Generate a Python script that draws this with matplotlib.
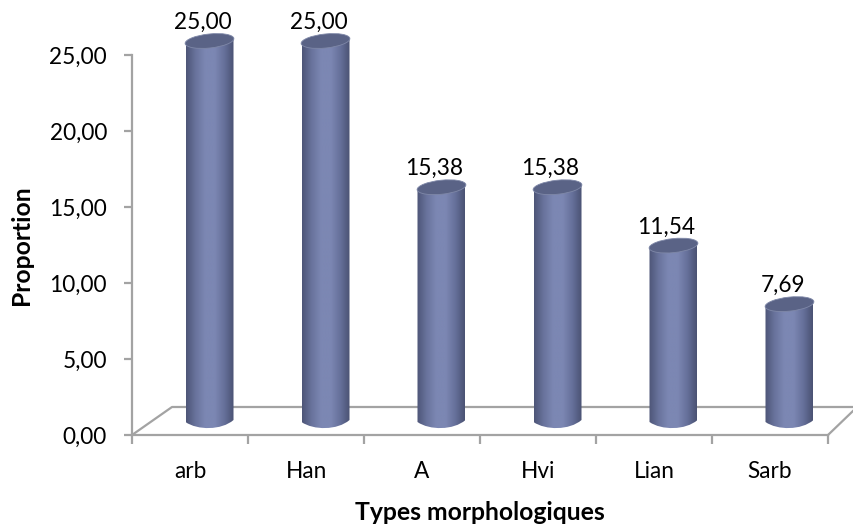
"""Cylinder bar chart of morphological types"""

import numpy as np
from matplotlib import pyplot as plt
from matplotlib.patches import Ellipse, PathPatch
from matplotlib.path import Path
from matplotlib.colors import LinearSegmentedColormap

categories = ['arb', 'Han', 'A', 'Hvi', 'Lian', 'Sarb']
values = [25.00, 25.00, 15.38, 15.38, 11.54, 7.69]
y_ticks = [0, 5, 10, 15, 20, 25]

W, H = 854, 529
GRAY = '#a3a3a3'
plt.rcParams['font.family'] = ['Lato', 'DejaVu Sans']

fig = plt.figure(figsize=(W / 100, H / 100), dpi=100)
ax = fig.add_axes([132 / W, 1 - 435 / H, 696 / W, 380 / H])
ax.set_xlim(-0.5, 5.5)
ax.set_ylim(0, 25)

# pixel sizes of the fake 3d, as data units
px_x = 6 / 696
px_y = 25 / 380
dx, dy = 19.5 * px_x, 13 * px_y
half_w = 24 * px_x
ell_h = 14 * px_y

for s in ['top', 'right']:
    ax.spines[s].set_visible(False)
for s in ['left', 'bottom']:
    ax.spines[s].set_color(GRAY)
    ax.spines[s].set_linewidth(1.6)

# floor of the 3d box
floor_x = [-0.5, -0.5 + 40 * px_x, 5.5 + 26 * px_x, 5.5]
floor_y = [0, 28 * px_y, 28 * px_y, 0]
ax.plot(floor_x[:3], floor_y[:3], color=GRAY, lw=1.6, clip_on=False, zorder=1)
ax.plot(floor_x[3:] + [floor_x[2]], floor_y[3:] + [25 * px_y], color=GRAY, lw=1.6,
        clip_on=False, zorder=1)

cmap = LinearSegmentedColormap.from_list(
    'cyl', ['#4d5577', '#69739c', '#7c87b3', '#7c87b3', '#66709a', '#4a5273'])
grad = np.linspace(0, 1, 256).reshape(1, -1)

for i, v in enumerate(values):
    cx = i + dx
    left, right = cx - half_w, cx + half_w
    base, top = dy, v + dy
    # body outline: straight sides, curved bottom
    k = ell_h * 0.6
    verts = [(left, base), (left, top - 1.5 * px_y), (right, top + 3.5 * px_y),
             (right, base + 2 * px_y),
             (right - half_w * 0.5, base - k), (left + half_w * 0.5, base - k), (left, base)]
    codes = [Path.MOVETO, Path.LINETO, Path.LINETO, Path.LINETO,
             Path.CURVE4, Path.CURVE4, Path.CURVE4]
    body = PathPatch(Path(verts, codes), facecolor='none', edgecolor='none', clip_on=False)
    ax.add_patch(body)
    im = ax.imshow(grad, cmap=cmap, aspect='auto', zorder=3,
                   extent=(left, right, base - 2, top + 2))
    im.set_clip_box(fig.bbox)
    im.set_clip_path(body)

    # tilted top cap, drawn in pixel space so the tilt is not skewed
    cap_xy = ax.transData.transform((cx, top + 1 * px_y))
    cap = Ellipse(cap_xy, 49, 14, angle=6, facecolor='#5a6386', edgecolor='#7f88a8',
                  lw=0.6, transform=None, zorder=4, clip_on=False)
    ax.add_artist(cap)

    ax.annotate(('%.2f' % v).replace('.', ','), (i + dx, v + dy), xytext=(-5, 14),
                textcoords='offset points', ha='center', va='center', fontsize=16.3,
                color='black', annotation_clip=False)

ax.set_xlim(-0.5, 5.5)
ax.set_ylim(0, 25)

ax.set_yticks(y_ticks)
ax.set_yticklabels([('%.2f' % t).replace('.', ',') for t in y_ticks])
ax.set_xticks(np.arange(0, 7) - 0.5)
ax.set_xticklabels([])
ax.set_xticks(np.arange(6), labels=categories, minor=True)
ax.tick_params(axis='x', which='major', length=6.5, width=1.6, color=GRAY)
ax.tick_params(axis='x', which='minor', length=0, labelsize=16.3, pad=19)
ax.tick_params(axis='y', length=6, width=1.6, color=GRAY, labelsize=16.3, pad=12)

fig.text(22 / W, 1 - 245 / H, 'Proportion', rotation=90, ha='center', va='center',
         fontsize=17.8, fontweight='bold')
fig.text(480 / W, 1 - 512 / H, 'Types morphologiques', ha='center', va='center',
         fontsize=17.8, fontweight='bold')

fig.savefig('out.png', dpi=100)
